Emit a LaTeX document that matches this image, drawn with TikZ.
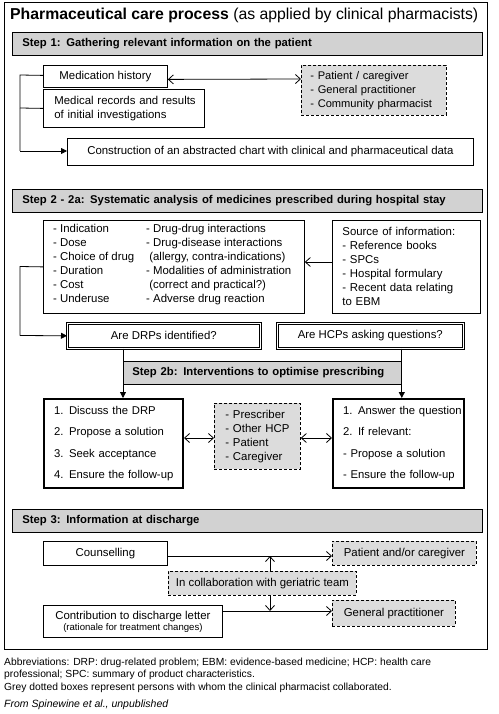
\documentclass[tikz,border=0pt]{standalone}
\usepackage{fontspec}
\setmainfont{Liberation Sans}
\usetikzlibrary{arrows.meta}
\definecolor{greyfill}{HTML}{DCDCDC}
\definecolor{barfill}{HTML}{D2D2D2}
\begin{document}
\begin{tikzpicture}[x=1pt,y=-1pt,
  every node/.style={font=\fontsize{11.4}{14}\selectfont},
  box/.style={draw, line width=0.8pt, inner sep=0pt, anchor=north west},
  thickbox/.style={draw, line width=2pt, inner sep=0pt, anchor=north west},
  dblbox/.style={draw, double, double distance=1.4pt, line width=0.6pt, inner sep=0pt, anchor=north west},
  greybox/.style={draw, dash pattern=on 3pt off 2pt, fill=greyfill, line width=0.8pt, inner sep=0pt, anchor=north west},
  stepbar/.style={draw, fill=barfill, line width=0.8pt, inner ysep=0pt, inner xsep=10pt, anchor=north west, align=left, font=\bfseries\fontsize{11.3}{14}\selectfont},
  conn/.style={line width=0.8pt},
  openhead/.style={-{Straight Barb[length=5pt,width=9pt,line width=0.8pt]}},
  openboth/.style={{Straight Barb[length=5pt,width=9pt,line width=0.8pt]}-{Straight Barb[length=5pt,width=9pt,line width=0.8pt]}},
  fullhead/.style={-{Triangle[length=6pt,width=6pt]}},
  foot/.style={anchor=base west, inner sep=0pt, font=\fontsize{10.3}{12}\selectfont}
]
\useasboundingbox (0,0) rectangle (498,714);
\draw[line width=0.8pt] (4,2) rectangle (487,649);

% title
\node[anchor=base west, inner sep=0pt, font=\fontsize{15.8}{18}\selectfont] (title) at (10,20)
  {\textbf{Pharmaceutical care process} (as applied by clinical pharmacists)};

% ---------- Step 1
\node[stepbar, minimum height=23, text width=450] (s1) at (12,32) {Step 1: Gathering relevant information on the patient};
\node[box, minimum width=124, minimum height=22] (medhist) at (43,65) {Medication history};
\node[box, minimum height=38, inner xsep=11pt, text width=139, align=left] (medrec) at (43,89) {\mbox{Medical records and results}\\of initial investigations};
\node[greybox, minimum height=50, inner xsep=9pt, text width=127, align=left, font=\fontsize{11.1}{14}\selectfont] (g1) at (301,65) {\mbox{- Patient / caregiver}\\\mbox{- General practitioner}\\\mbox{- Community pharmacist}};
\node[box, minimum width=406, minimum height=27] (constr) at (67,138) {Construction of an abstracted chart with clinical and pharmaceutical data};

\draw[conn, openboth] ([yshift=-3pt]medhist.east) -- (g1.west |- 0,79);
\draw[conn] ([yshift=1pt]medhist.west) -- (20,75) -- (20,151);
\draw[conn] (medrec.west) -- (20,108);
\draw[conn, fullhead] (20,151) -- (constr.west |- 0,151);

% ---------- Step 2
\node[stepbar, minimum height=23, text width=450] (s2) at (12,189) {Step 2 - 2a: Systematic analysis of medicines prescribed during hospital stay};
\node[box, minimum width=261, minimum height=93] (analysis) at (43,220) {};
\node[anchor=north west, inner sep=0pt] (anatext) at (53,222) {%
  \begin{tabular}{@{}p{93pt}@{}l@{}}
  - Indication & - Drug-drug interactions\\
  - Dose & - Drug-disease interactions\\
  - Choice of drug & \ (allergy, contra-indications)\\
  - Duration & - Modalities of administration\\
  - Cost & \ (correct and practical?)\\
  - Underuse & - Adverse drug reaction
  \end{tabular}};
\node[box, minimum height=93, inner xsep=10pt, text width=128, align=left] (source) at (332,220)
  {\mbox{Source of information:}\\- Reference books\\- SPCs\\- Hospital formulary\\\mbox{- Recent data relating}\\to EBM};
\draw[conn, openhead] (source.west |- 0,262) -- (analysis.east |- 0,262);

\node[dblbox, minimum width=193, minimum height=25] (drp) at (67,323) {Are DRPs identified?};
\node[dblbox, minimum width=186, minimum height=25] (hcp) at (277,323) {Are HCPs asking questions?};
\draw[conn] (analysis.west) -- (20,266.5) -- (20,335.5);
\draw[conn, fullhead] (20,335.5) -- (drp.west);

\node[stepbar, minimum height=23, text width=260, inner xsep=9pt] (s2b) at (123,361) {Step 2b: Interventions to optimise prescribing};

\node[thickbox, minimum height=89, inner xsep=10pt, text width=119, align=left, font=\fontsize{11.3}{21.5}\selectfont] (left) at (43,398)
  {\mbox{1. Discuss the DRP}\\\mbox{2. Propose a solution}\\\mbox{3. Seek acceptance}\\\mbox{4. Ensure the follow-up}};
\node[greybox, minimum height=66, inner xsep=11pt, text width=64, align=left] (mid) at (214,403)
  {- Prescriber\\\mbox{- Other HCP}\\- Patient\\- Caregiver};
\node[thickbox, minimum height=89, inner xsep=10pt, text width=111, align=left, font=\fontsize{11.3}{21.5}\selectfont] (right) at (332,398)
  {\mbox{1. Answer the question}\\\mbox{2. If relevant:}\\\mbox{- Propose a solution}\\\mbox{- Ensure the follow-up}};

\draw[conn, fullhead] (s2b.north west |- drp.south) -- (s2b.north west |- left.north);
\draw[conn, fullhead] (s2b.north east |- hcp.south) -- (s2b.north east |- right.north);
\draw[conn, openboth] (left.east |- 0,438) -- (mid.west |- 0,438);
\draw[conn, openboth] (mid.east |- 0,438) -- (right.west |- 0,438);

% ---------- Step 3
\node[stepbar, minimum height=23, text width=450] (s3) at (12,509) {Step 3: Information at discharge};
\node[box, minimum width=124, minimum height=24] (couns) at (43,541) {Counselling};
\node[greybox, minimum width=144, minimum height=24] (patient) at (332,541) {Patient and/or caregiver};
\node[greybox, minimum width=188, minimum height=24] (collab) at (168,571) {In collaboration with geriatric team};
\node[box, minimum width=179, minimum height=32, align=center] (contrib) at (43,605)
  {Contribution to discharge letter\\[-3pt]{\fontsize{9.6}{11}\selectfont (rationale for treatment changes)}};
\node[greybox, minimum width=123, minimum height=26] (gp) at (332,600) {General practitioner};

\coordinate (j1) at (270,556);
\coordinate (j2) at (270,611);
\draw[conn, openhead] (couns.east |- j1) -- (patient.west |- j1);
\draw[conn, openhead] (contrib.east |- j2) -- (gp.west |- j2);
\draw[conn, openhead] (collab.north -| j1) -- (j1);
\draw[conn, openhead] (collab.south -| j2) -- (j2);

% ---------- footnotes
\node[foot] (f1) at (4,665) {Abbreviations: DRP: drug-related problem; EBM: evidence-based medicine; HCP: health care};
\node[foot] (f2) at (4,677) {professional; SPC: summary of product characteristics.};
\node[foot] (f3) at (4,690) {Grey dotted boxes represent persons with whom the clinical pharmacist collaborated.};
\node[foot, font=\itshape\fontsize{10.5}{12}\selectfont] (f4) at (4,707) {From Spinewine et al., unpublished};
\end{tikzpicture}
\end{document}
